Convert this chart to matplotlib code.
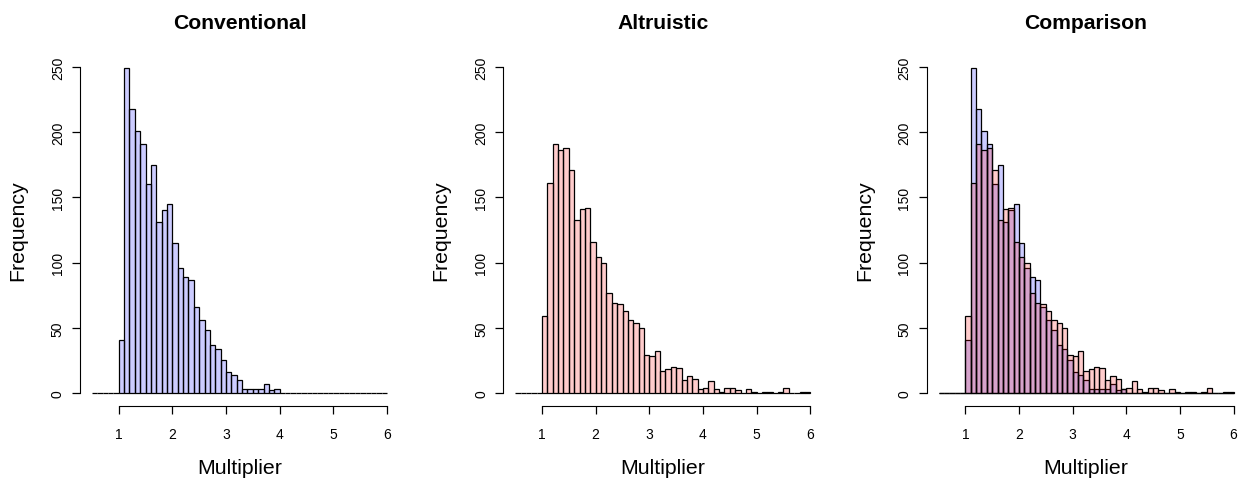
import numpy as np
import matplotlib.pyplot as plt

plt.rcParams["font.family"] = ["Liberation Sans", "DejaVu Sans"]

# histogram breaks: 0.5 to 6.0 by 0.1
bin_edges = np.round(np.arange(0.5, 6.0001, 0.1), 2)

conventional_counts = [
    0, 0, 0, 0, 0,
    41, 249, 218, 201, 191, 160, 175, 131, 140, 145,
    115, 96, 89, 87, 66, 56, 48, 37, 34, 25,
    16, 14, 10, 3, 3, 3, 3, 7, 2, 3,
    0, 0, 0, 0, 0, 0, 0, 0, 0, 0,
    0, 0, 0, 0, 0, 0, 0, 0, 0, 0,
]
altruistic_counts = [
    0, 0, 0, 0, 0,
    59, 161, 191, 186, 188, 171, 133, 141, 142, 116,
    104, 100, 77, 69, 68, 63, 56, 54, 50, 29,
    28, 32, 17, 18, 20, 19, 10, 13, 11, 3,
    4, 9, 3, 1, 4, 4, 2, 0, 3, 1,
    0, 1, 1, 0, 1, 4, 0, 0, 1, 1,
]

x_ticks = [1, 2, 3, 4, 5, 6]
y_ticks = [0, 50, 100, 150, 200, 250]

blue_fill = (0, 0, 1, 0.2)
red_fill = (1, 0, 0, 0.2)

W, H = 1245, 481
fig = plt.figure(figsize=(W / 100, H / 100), dpi=100)


def style_axes(ax, title):
    ax.set_xlim(0.28, 6.22)
    ax.set_ylim(-10, 260)
    for side in ("top", "right"):
        ax.spines[side].set_visible(False)
    ax.spines["left"].set_bounds(0, 250)
    ax.spines["bottom"].set_bounds(1, 6)
    ax.set_xticks(x_ticks)
    ax.set_yticks(y_ticks)
    ax.set_yticklabels([str(v) for v in y_ticks], rotation=90, va="center")
    ax.tick_params(length=6, width=0.9, labelsize=10, pad=9)
    ax.tick_params(axis="y", pad=5)
    ax.set_title(title, fontsize=15.2, fontweight="bold", pad=19)
    ax.set_xlabel("Multiplier", fontsize=15.3, labelpad=12.5)
    ax.set_ylabel("Frequency", fontsize=15.3, labelpad=17)


def draw_hist(ax, counts, color):
    ax.bar(bin_edges[:-1], counts, width=0.1, align="edge",
           facecolor=color, edgecolor="black", linewidth=0.9)


panels = [
    ("Conventional", [(conventional_counts, blue_fill)]),
    ("Altruistic", [(altruistic_counts, red_fill)]),
    ("Comparison", [(conventional_counts, blue_fill), (altruistic_counts, red_fill)]),
]

for i, (title, series) in enumerate(panels):
    left = (80.1 + 423.3 * i) / W
    ax = fig.add_axes([left, (H - 407) / H, 318.7 / W, 352 / H])
    for counts, color in series:
        draw_hist(ax, counts, color)
    style_axes(ax, title)

fig.savefig("out.png", dpi=100)
